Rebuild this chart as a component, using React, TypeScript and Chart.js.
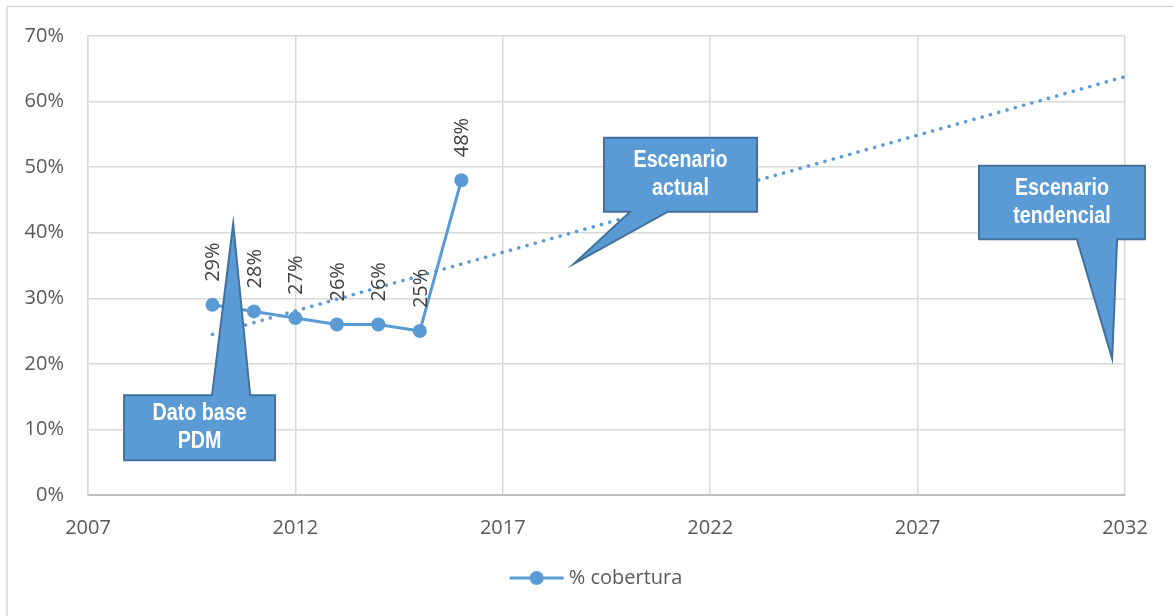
import React, { useEffect, useRef } from "react";
import { Chart, registerables } from "chart.js";

Chart.register(...registerables);

// ---- data ----
const years = [2010, 2011, 2012, 2013, 2014, 2015, 2016];
const cobertura = [29, 28, 27, 26, 26, 25, 48];
const trendYears = [2010, 2032];
const trendValues = [24.5, 63.8];
const seriesLabel = "% cobertura";
const calloutTexts = [["Dato base", "PDM"], ["Escenario", "actual"], ["Escenario", "tendencial"]];

// ---- callout geometry (data units: year / %) ----
const calloutGeom = [
  { box: [2007.87, 2011.51, 15.2, 5.3], side: "top", base: [2009.99, 2010.91], tip: [2010.5, 41.4] },
  { box: [2019.44, 2023.13, 54.5, 43.2], side: "bottom", base: [2020.07, 2020.98], tip: [2018.72, 35.3] },
  { box: [2028.48, 2032.48, 50.2, 39.0], side: "bottom", base: [2030.84, 2031.81], tip: [2031.69, 20.8] },
];

const BLUE = "#5B9BD5";
const DARK = "#41719C";
const FONT = "'Open Sans', 'Noto Sans', sans-serif";

const overlayPlugin = {
  id: "overlay",
  afterDatasetsDraw(chart: any) {
    const ctx = chart.ctx;
    const meta = chart.getDatasetMeta(0);
    ctx.save();
    ctx.fillStyle = "#404040";
    ctx.font = `20px ${FONT}`;
    ctx.textAlign = "left";
    ctx.textBaseline = "middle";
    meta.data.forEach((pt: any, i: number) => {
      ctx.save();
      ctx.translate(pt.x, pt.y - 23);
      ctx.rotate(-Math.PI / 2);
      ctx.fillText(cobertura[i] + "%", 0, 1);
      ctx.restore();
    });
    ctx.restore();
  },
  afterDraw(chart: any) {
    const ctx = chart.ctx;
    const xs = chart.scales.x;
    const ys = chart.scales.y;
    const X = (v: number) => xs.getPixelForValue(v);
    const Y = (v: number) => ys.getPixelForValue(v);
    ctx.save();
    // frame
    ctx.strokeStyle = "#D9D9D9";
    ctx.lineWidth = 1.5;
    ctx.beginPath();
    ctx.moveTo(7, chart.height);
    ctx.lineTo(7, 6.5);
    ctx.lineTo(chart.width, 6.5);
    ctx.stroke();

    // callouts
    calloutGeom.forEach((g, i) => {
      const x0 = X(g.box[0]), x1 = X(g.box[1]);
      const y0 = Y(g.box[2]), y1 = Y(g.box[3]);
      const ba = X(g.base[0]), bb = X(g.base[1]);
      const tx = X(g.tip[0]), ty = Y(g.tip[1]);
      ctx.beginPath();
      if (g.side === "top") {
        ctx.moveTo(x0, y0);
        ctx.lineTo(ba, y0);
        ctx.lineTo(tx, ty);
        ctx.lineTo(bb, y0);
        ctx.lineTo(x1, y0);
        ctx.lineTo(x1, y1);
        ctx.lineTo(x0, y1);
      } else {
        ctx.moveTo(x0, y0);
        ctx.lineTo(x1, y0);
        ctx.lineTo(x1, y1);
        ctx.lineTo(bb, y1);
        ctx.lineTo(tx, ty);
        ctx.lineTo(ba, y1);
        ctx.lineTo(x0, y1);
      }
      ctx.closePath();
      ctx.fillStyle = BLUE;
      ctx.fill();
      ctx.strokeStyle = DARK;
      ctx.lineWidth = 2;
      ctx.lineJoin = "miter";
      ctx.stroke();

      const cx = (x0 + x1) / 2;
      const cy = (y0 + y1) / 2;
      const lines = calloutTexts[i];
      ctx.fillStyle = "#FFFFFF";
      ctx.font = `bold 24px 'Liberation Sans', Arial, sans-serif`;
      ctx.textAlign = "center";
      ctx.textBaseline = "middle";
      lines.forEach((t, k) => {
        const ly = cy + (k - (lines.length - 1) / 2) * 28;
        ctx.save();
        ctx.translate(cx, ly);
        ctx.scale(0.82, 1);
        ctx.fillText(t, 0, 0);
        ctx.restore();
      });
    });

    // legend
    ctx.font = `20px ${FONT}`;
    const tw = ctx.measureText(seriesLabel).width;
    const total = 54 + 5 + tw;
    const lx = chart.width / 2 - total / 2 + 9;
    const ly = 578;
    ctx.strokeStyle = BLUE;
    ctx.lineWidth = 3;
    ctx.beginPath();
    ctx.moveTo(lx, ly);
    ctx.lineTo(lx + 54, ly);
    ctx.stroke();
    ctx.fillStyle = BLUE;
    ctx.beginPath();
    ctx.arc(lx + 27, ly, 7, 0, Math.PI * 2);
    ctx.fill();
    ctx.fillStyle = "#595959";
    ctx.textAlign = "left";
    ctx.textBaseline = "middle";
    ctx.fillText(seriesLabel, lx + 59, ly);
    ctx.restore();
  },
};

export default function App() {
  const ref = useRef<HTMLCanvasElement | null>(null);
  useEffect(() => {
    if (!ref.current) return;
    const chart = new Chart(ref.current, {
      type: "scatter",
      data: {
        datasets: [
          {
            label: seriesLabel,
            data: years.map((y, i) => ({ x: y, y: cobertura[i] })),
            showLine: true,
            borderColor: BLUE,
            backgroundColor: BLUE,
            borderWidth: 3,
            pointRadius: 7,
            pointBorderWidth: 0,
            pointBackgroundColor: BLUE,
          },
          {
            label: "trend",
            data: trendYears.map((y, i) => ({ x: y, y: trendValues[i] })),
            showLine: true,
            borderColor: BLUE,
            borderWidth: 3.5,
            borderDash: [0.1, 8.5],
            borderCapStyle: "round",
            pointRadius: 0,
          },
        ],
      } as any,
      plugins: [overlayPlugin],
      options: {
        animation: false,
        responsive: false,
        devicePixelRatio: 1,
        layout: { padding: { left: 0, top: 35, right: 49, bottom: 0 } },
        plugins: { legend: { display: false }, tooltip: { enabled: false } },
        scales: {
          x: {
            type: "linear",
            min: 2007,
            max: 2032,
            afterFit: (s: any) => { s.height = 121; },
            ticks: {
              stepSize: 5,
              padding: 21,
              color: "#595959",
              font: { family: FONT, size: 20 },
              callback: (v: any) => String(v),
            },
            grid: { color: "#D9D9D9", lineWidth: 1.5, drawTicks: false },
            border: { color: "#BFBFBF", width: 2 },
          },
          y: {
            min: 0,
            max: 70,
            afterFit: (s: any) => { s.width = 88; },
            ticks: {
              stepSize: 10,
              padding: 24,
              color: "#595959",
              font: { family: FONT, size: 20 },
              callback: (v: any) => v + "%",
            },
            grid: { color: "#D9D9D9", lineWidth: 1.5, drawTicks: false },
            border: { color: "#D9D9D9", width: 1.5 },
          },
        },
      } as any,
    });
    return () => chart.destroy();
  }, []);
  return (
    <div style={{ position: "fixed", left: 0, top: 0, width: 1174, height: 616, background: "#fff" }}>
      <canvas ref={ref} width={1174} height={616} style={{ display: "block" }} />
    </div>
  );
}
